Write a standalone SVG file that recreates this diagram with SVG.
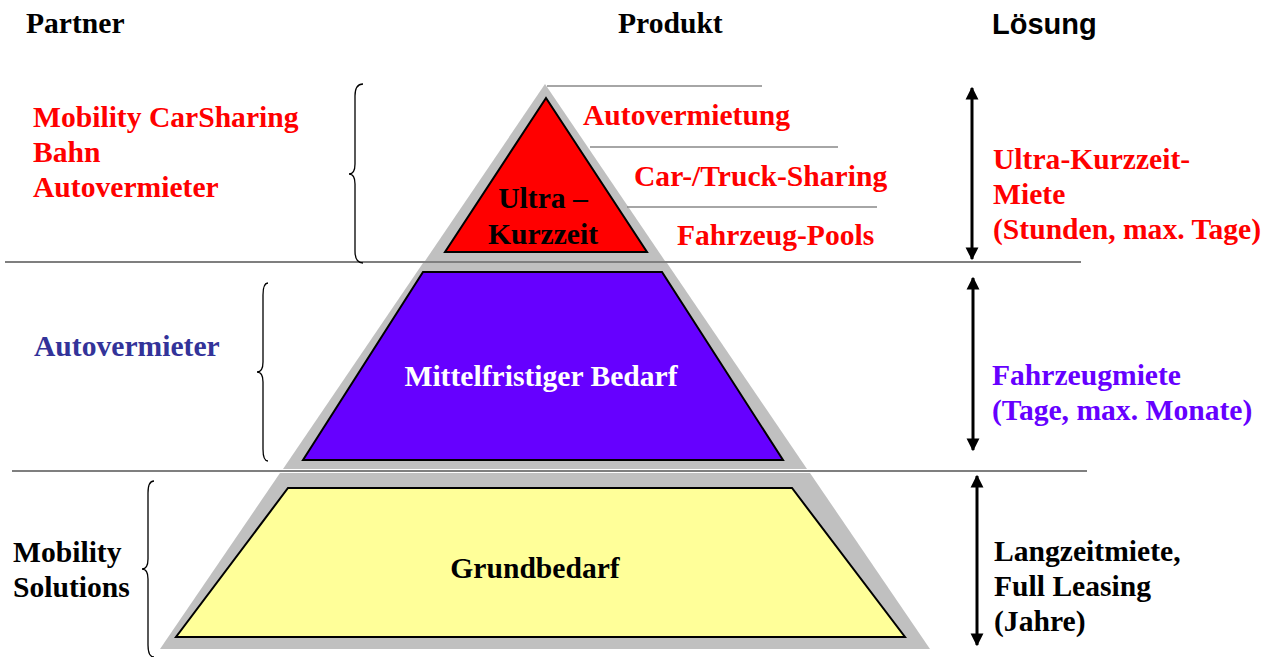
<svg xmlns="http://www.w3.org/2000/svg" width="1273" height="657" viewBox="0 0 1273 657">
<defs>
<style>
.t{font-family:"Liberation Serif","Times New Roman",serif;font-weight:bold;font-size:29.6px}
.s{font-family:"Liberation Sans",Arial,sans-serif;font-weight:bold;font-size:29px}
.red{fill:#FF0000}
.blue{fill:#333399}
.vio{fill:#6600FF}
.blk{fill:#000}
.wht{fill:#fff}
.shadow{fill:#C0C0C0}
.lvl{stroke:#000;stroke-width:2;stroke-linejoin:miter}
.sep{stroke:#555;stroke-width:1.3;fill:none}
.thin{stroke:#888;stroke-width:1.3;fill:none}
.brace{stroke:#000;stroke-width:1.3;fill:none}
.arr{stroke:#000;stroke-width:3;fill:none;marker-start:url(#ah);marker-end:url(#ah)}
</style>
<marker id="ah" viewBox="0 0 10 10" refX="9" refY="5" markerWidth="4.3" markerHeight="4.5" orient="auto-start-reverse" markerUnits="strokeWidth">
<path d="M0,0 L10,5 L0,10 z" fill="#000"/>
</marker>
</defs>
<rect width="1273" height="657" fill="#fff"/>

<g id="headers">
<text class="t blk" x="26" y="33">Partner</text>
<text class="t blk" x="618" y="33">Produkt</text>
<text class="s blk" x="992" y="34">Lösung</text>
</g>

<g id="level-top">
<polygon class="shadow" points="545,84 665,261 425,261"/>
<polygon class="lvl red" points="546,98 647,252 445,252"/>
<text class="t blk" x="543" y="208" text-anchor="middle">Ultra –</text>
<text class="t blk" x="543" y="244" text-anchor="middle">Kurzzeit</text>
</g>

<g id="level-middle">
<polygon class="shadow" points="423,263 667,263 807,469 283,469"/>
<polygon class="lvl vio" points="423,272 662,272 783,460 303,460"/>
<text class="t wht" x="541" y="386" text-anchor="middle">Mittelfristiger Bedarf</text>
</g>

<g id="level-bottom">
<polygon class="shadow" points="280,473 810,473 930,649 160,649"/>
<polygon class="lvl" style="fill:#FFFF99" points="288,488 792,488 905,637 176,637"/>
<text class="t blk" x="535" y="578" text-anchor="middle">Grundbedarf</text>
</g>

<g id="products">
<text class="t red" x="583" y="125">Autovermietung</text>
<text class="t red" x="634" y="186">Car-/Truck-Sharing</text>
<text class="t red" x="677" y="245">Fahrzeug-Pools</text>
</g>

<g id="partners">
<text class="t red" x="33" y="127">Mobility CarSharing</text>
<text class="t red" x="33" y="162">Bahn</text>
<text class="t red" x="33" y="197">Autovermieter</text>
<text class="t blue" x="34" y="356">Autovermieter</text>
<text class="t blk" x="13" y="562">Mobility</text>
<text class="t blk" x="13" y="597">Solutions</text>
</g>

<g id="solutions">
<text class="t red" x="993" y="169">Ultra-Kurzzeit-</text>
<text class="t red" x="993" y="204">Miete</text>
<text class="t red" x="993" y="239">(Stunden, max. Tage)</text>
<text class="t vio" x="992" y="385">Fahrzeugmiete</text>
<text class="t vio" x="992" y="420">(Tage, max. Monate)</text>
<text class="t blk" x="994" y="561">Langzeitmiete,</text>
<text class="t blk" x="994" y="596">Full Leasing</text>
<text class="t blk" x="994" y="631">(Jahre)</text>
</g>

<g id="connectors">
<line class="sep" x1="5" y1="262" x2="1081" y2="262"/>
<line class="sep" x1="12" y1="471" x2="1087" y2="471"/>
<line class="thin" x1="547" y1="86" x2="762" y2="86"/>
<line class="thin" x1="590" y1="147" x2="838" y2="147"/>
<line class="thin" x1="627" y1="207" x2="877" y2="207"/>
<path class="brace" d="M363,84 Q355,84 355,96 L355,164 Q355,174 349,174 Q355,174 355,184 L355,251 Q355,263 363,263"/>
<path class="brace" d="M268,283 Q263,283 263,295 L263,362 Q263,372 257,372 Q263,372 263,382 L263,449 Q263,461 268,461"/>
<path class="brace" d="M154,481 Q148,481 148,493 L148,559 Q148,569 142,569 Q148,569 148,579 L148,645 Q148,657 154,657"/>
<line class="arr" x1="972" y1="88" x2="972" y2="259"/>
<line class="arr" x1="973" y1="278" x2="973" y2="450"/>
<line class="arr" x1="977" y1="476" x2="977" y2="645"/>
</g>
</svg>
